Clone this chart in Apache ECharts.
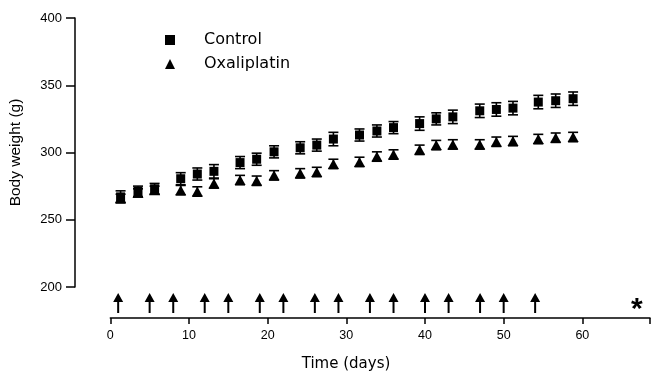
<!DOCTYPE html>
<html>
<head>
<meta charset="utf-8">
<script src="https://cdn.jsdelivr.net/npm/echarts@6/dist/echarts.min.js"></script>
<style>html,body{margin:0;padding:0;background:#fff}#c{width:653px;height:374px}</style>
</head>
<body>
<div id="c"></div>
<script>
var days = [1.3,3.5,5.6,8.9,11.0,13.1,16.4,18.5,20.7,24.0,26.1,28.2,31.5,33.7,35.8,39.1,41.2,43.3,46.7,48.8,50.9,54.1,56.3,58.5];
var control = [267,271,273,280.5,284,286,292.5,295,300.5,303.5,305.5,310,313,316,318.5,321.5,325,326.5,331,332,333,337.5,338.5,340];
var controlErr = [4.5,4,4,4.5,4.5,5,4.5,4.5,4.5,4.5,4.5,5,4.5,4.5,4.5,5,4.5,5,5,5,5,5,5,5];
var oxali = [266,270,272,272,271,277,279.5,279,283,284.5,285.5,291.5,293,297,298.5,302,305.5,306,306,308,308.5,310,311,311.5];
var oxaliErr = [3,3,3,3.5,3.5,3.5,3.5,3.5,3.5,3.5,3.5,3.5,3.5,3.5,3.5,3.5,3.5,3.5,3.5,3.5,3.5,3.5,3.5,3.5];
var doseDays = [1,5,8,12,15,19,22,26,29,33,36,40,43,47,50,54];
var yTicks = [200,250,300,350,400];
var xTicks = [0,10,20,30,40,50,60];

var FONT = 'Liberation Sans, Arial, sans-serif';
var WIDE = 'DejaVu Sans, sans-serif';
var XMAX = 68.6;

function errData(vals, errs){
  return days.map(function(d,i){ return [d, vals[i]-errs[i], vals[i]+errs[i]]; });
}
function errRender(params, api){
  var x = api.value(0);
  var lo = api.coord([x, api.value(1)]);
  var hi = api.coord([x, api.value(2)]);
  var hw = 5;
  var st = {stroke:'#000', lineWidth:1.6};
  return {type:'group', children:[
    {type:'line', shape:{x1:lo[0],y1:lo[1],x2:hi[0],y2:hi[1]}, style:st},
    {type:'line', shape:{x1:lo[0]-hw,y1:lo[1],x2:lo[0]+hw,y2:lo[1]}, style:st},
    {type:'line', shape:{x1:hi[0]-hw,y1:hi[1],x2:hi[0]+hw,y2:hi[1]}, style:st}
  ]};
}

var chart = echarts.init(document.getElementById('c'), null, {renderer:'canvas'});
chart.setOption({
  animation:false,
  backgroundColor:'#fff',
  textStyle:{fontFamily:FONT},
  grid:[
    {left:110.3, right:0, top:18, height:269},
    {left:110.3, right:0, top:288, height:30}
  ],
  legend:{
    left:160, top:27, orient:'vertical', itemWidth:10, itemHeight:10, itemGap:8,
    textStyle:{fontSize:16, color:'#000', fontFamily:WIDE, padding:[0,0,0,24]},
    data:[{name:'Control', icon:'rect'},{name:'Oxaliplatin', icon:'triangle'}]
  },
  xAxis:[
    {gridIndex:0, type:'value', min:0, max:XMAX, show:false},
    {gridIndex:1, type:'value', min:0, max:XMAX, interval:10,
     axisLine:{show:true, onZero:false, lineStyle:{color:'#000', width:1.5}},
     axisTick:{show:true, length:6, lineStyle:{color:'#000', width:1.5}},
     axisLabel:{fontSize:12.5, color:'#000', margin:11,
       formatter:function(v){ return xTicks.indexOf(v)>=0 ? String(v) : ''; }},
     splitLine:{show:false}}
  ],
  yAxis:[
    {gridIndex:0, type:'value', min:200, max:400, interval:50, offset:35.3,
     axisLine:{show:true, onZero:false, lineStyle:{color:'#000', width:1.5}},
     axisTick:{show:true, length:9, lineStyle:{color:'#000', width:1.5}},
     axisLabel:{fontSize:13, color:'#000', margin:13,
       formatter:function(v){ return yTicks.indexOf(v)>=0 ? String(v) : ''; }},
     splitLine:{show:false},
     name:'Body weight (g)', nameLocation:'middle', nameGap:51,
     nameTextStyle:{fontSize:15.5, color:'#000', fontFamily:FONT}},
    {gridIndex:1, type:'value', min:0, max:1, show:false}
  ],
  series:[
    {type:'custom', name:'OxaErr', xAxisIndex:0, yAxisIndex:0, renderItem:errRender,
     data:errData(oxali, oxaliErr), z:2, silent:true},
    {type:'scatter', name:'Oxaliplatin', xAxisIndex:0, yAxisIndex:0, symbol:'triangle', symbolSize:[11,10],
     itemStyle:{color:'#000', opacity:1}, data:days.map(function(d,i){return [d, oxali[i]];}), z:3},
    {type:'custom', name:'CtrlErr', xAxisIndex:0, yAxisIndex:0, renderItem:errRender,
     data:errData(control, controlErr), z:4, silent:true},
    {type:'scatter', name:'Control', xAxisIndex:0, yAxisIndex:0, symbol:'rect', symbolSize:9,
     itemStyle:{color:'#000', opacity:1}, data:days.map(function(d,i){return [d, control[i]];}), z:5},
    {type:'scatter', name:'Dose', xAxisIndex:1, yAxisIndex:1,
     symbol:'path://M5,0 L10,9 L6,9 L6,20 L4,20 L4,9 L0,9 Z', symbolSize:[10,20],
     itemStyle:{color:'#000', opacity:1}, data:doseDays.map(function(d){return [d, 0.5];})}
  ],
  graphic:[
    {type:'text', x:346, y:357, style:{text:'Time (days)', fill:'#000', font:'15px DejaVu Sans, sans-serif', align:'center'}},
    {type:'text', x:631, y:295, style:{text:'*', fill:'#000', font:'bold 30px Liberation Sans, Arial, sans-serif'}}
  ]
});
</script>
</body>
</html>
